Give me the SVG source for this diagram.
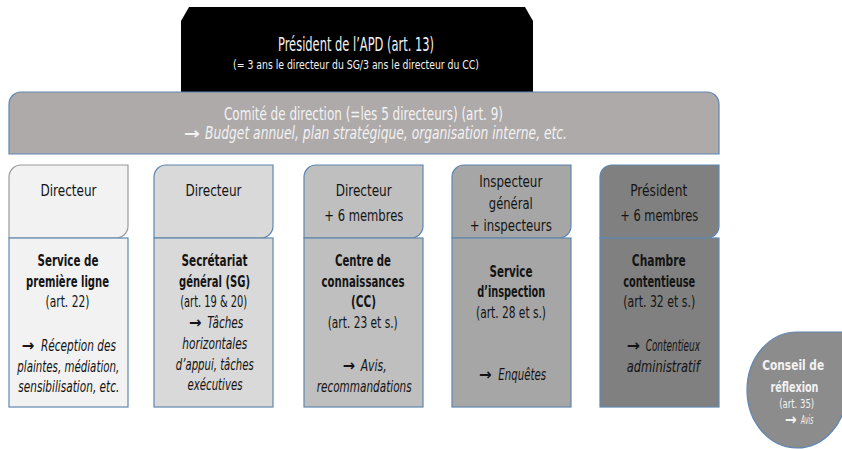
<svg xmlns="http://www.w3.org/2000/svg" width="842" height="449" viewBox="0 0 842 449">
  <style>
    text { font-family: "Liberation Sans Narrow", "DejaVu Sans Condensed", "Liberation Sans", sans-serif; text-anchor: middle; fill: #141414; }
    .light { fill: #f2f2f2; }
    .hd { font-size: 16.5px; }
    .b { font-size: 15.5px; font-weight: bold; }
    .r { font-size: 15.5px; }
    .i { font-style: italic; }
    .s { text-anchor: start; }
    .arr { font-family: "DejaVu Sans", "Liberation Sans", sans-serif; font-size: 16px; font-weight: bold; text-anchor: start; }
    .edge { stroke: #5f86b0; stroke-width: 1.2; }
  </style>

  <rect width="842" height="449" fill="#ffffff"/>

  <!-- President -->
  <g id="president">
    <path d="M181,95 V21 L189,7 H525 L533,21 V95 Z" fill="#000000"/>
    <text class="light" x="356" y="51" font-size="20" textLength="156" lengthAdjust="spacingAndGlyphs">Président de l’APD (art. 13)</text>
    <text class="light" x="356" y="69" font-size="12" textLength="246" lengthAdjust="spacingAndGlyphs">(= 3 ans le directeur du SG/3 ans le directeur du CC)</text>
  </g>

  <!-- Management committee -->
  <g id="comite">
    <path class="edge" d="M9,154 V104 A12,12 0 0 1 21,92 H707 A12,12 0 0 1 719,104 V154 Z" fill="#aeaaaa"/>
    <text class="light" x="363.5" y="120" font-size="18" textLength="279" lengthAdjust="spacingAndGlyphs">Comité de direction (=les 5 directeurs) (art. 9)</text>
    <text class="light arr" x="184" y="139" font-size="18" textLength="16" lengthAdjust="spacingAndGlyphs">→</text>
    <text class="light s i" x="205" y="139" font-size="18" textLength="362" lengthAdjust="spacingAndGlyphs">Budget annuel, plan stratégique, organisation interne, etc.</text>
  </g>

  <!-- Column 1 -->
  <g id="premiere-ligne">
    <path d="M9,177 A12,12 0 0 1 21,165 H128 V226 A12,12 0 0 1 116,238 H9 Z" fill="#f2f2f2" stroke="#9a9a9a" stroke-width="1.2"/>
    <rect class="edge" x="9" y="238" width="119" height="169" fill="#f2f2f2"/>
    <text class="hd" x="68.5" y="196" textLength="56" lengthAdjust="spacingAndGlyphs">Directeur</text>
    <text class="b" x="68" y="266" textLength="61" lengthAdjust="spacingAndGlyphs">Service de</text>
    <text class="b" x="67.5" y="286.5" textLength="83" lengthAdjust="spacingAndGlyphs">première ligne</text>
    <text class="r" x="67.5" y="306.5" textLength="44" lengthAdjust="spacingAndGlyphs">(art. 22)</text>
    <text class="arr" x="21.7" y="351" textLength="12.6" lengthAdjust="spacingAndGlyphs">→</text>
    <text class="r i s" x="41" y="351" textLength="75" lengthAdjust="spacingAndGlyphs">Réception des</text>
    <text class="r i" x="68.3" y="371.5" textLength="102" lengthAdjust="spacingAndGlyphs">plaintes, médiation,</text>
    <text class="r i" x="68.8" y="392" textLength="101" lengthAdjust="spacingAndGlyphs">sensibilisation, etc.</text>
  </g>

  <!-- Column 2 -->
  <g id="secretariat">
    <path class="edge" d="M154,177 A12,12 0 0 1 166,165 H273 V226 A12,12 0 0 1 261,238 H154 Z" fill="#d9d9d9"/>
    <rect class="edge" x="154" y="238" width="119" height="169" fill="#d9d9d9"/>
    <text class="hd" x="213.5" y="196" textLength="56" lengthAdjust="spacingAndGlyphs">Directeur</text>
    <text class="b" x="214.5" y="266" textLength="66" lengthAdjust="spacingAndGlyphs">Secrétariat</text>
    <text class="b" x="214.5" y="286.7" textLength="71" lengthAdjust="spacingAndGlyphs">général (SG)</text>
    <text class="r" x="213.7" y="307.4" textLength="67" lengthAdjust="spacingAndGlyphs">(art. 19 &amp; 20)</text>
    <text class="arr" x="189" y="328" textLength="12.6" lengthAdjust="spacingAndGlyphs">→</text>
    <text class="r i s" x="207.3" y="328" textLength="36" lengthAdjust="spacingAndGlyphs">Tâches</text>
    <text class="r i" x="214.8" y="348.8" textLength="65" lengthAdjust="spacingAndGlyphs">horizontales</text>
    <text class="r i" x="214.8" y="369.5" textLength="78" lengthAdjust="spacingAndGlyphs">d’appui, tâches</text>
    <text class="r i" x="215" y="390.2" textLength="55" lengthAdjust="spacingAndGlyphs">exécutives</text>
  </g>

  <!-- Column 3 -->
  <g id="centre-connaissances">
    <path class="edge" d="M304,177 A12,12 0 0 1 316,165 H423 V226 A12,12 0 0 1 411,238 H304 Z" fill="#bfbfbf"/>
    <rect class="edge" x="304" y="238" width="119" height="169" fill="#bfbfbf"/>
    <text class="hd" x="363.7" y="196" textLength="56" lengthAdjust="spacingAndGlyphs">Directeur</text>
    <text class="hd" x="363.8" y="221" textLength="79" lengthAdjust="spacingAndGlyphs">+ 6 membres</text>
    <text class="b" x="363" y="266" textLength="56" lengthAdjust="spacingAndGlyphs">Centre de</text>
    <text class="b" x="363" y="286.5" textLength="83" lengthAdjust="spacingAndGlyphs">connaissances</text>
    <text class="b" x="363.5" y="307" textLength="25" lengthAdjust="spacingAndGlyphs">(CC)</text>
    <text class="r" x="362.7" y="328" textLength="70" lengthAdjust="spacingAndGlyphs">(art. 23 et s.)</text>
    <text class="arr" x="342.7" y="371" textLength="12.4" lengthAdjust="spacingAndGlyphs">→</text>
    <text class="r i s" x="360.7" y="371" textLength="26" lengthAdjust="spacingAndGlyphs">Avis,</text>
    <text class="r i" x="364.2" y="392" textLength="95" lengthAdjust="spacingAndGlyphs">recommandations</text>
  </g>

  <!-- Column 4 -->
  <g id="service-inspection">
    <path class="edge" d="M452,177 A12,12 0 0 1 464,165 H571 V226 A12,12 0 0 1 559,238 H452 Z" fill="#a6a6a6"/>
    <rect class="edge" x="452" y="238" width="119" height="169" fill="#a6a6a6"/>
    <text class="hd" x="510.8" y="186.5" textLength="63" lengthAdjust="spacingAndGlyphs">Inspecteur</text>
    <text class="hd" x="510.8" y="208.5" textLength="44" lengthAdjust="spacingAndGlyphs">général</text>
    <text class="hd" x="510.8" y="230.5" textLength="82" lengthAdjust="spacingAndGlyphs">+ inspecteurs</text>
    <text class="b" x="511" y="276.5" textLength="43" lengthAdjust="spacingAndGlyphs">Service</text>
    <text class="b" x="511.2" y="297" textLength="68" lengthAdjust="spacingAndGlyphs">d’inspection</text>
    <text class="r" x="511" y="317.5" textLength="70" lengthAdjust="spacingAndGlyphs">(art. 28 et s.)</text>
    <text class="arr" x="479" y="379.5" textLength="12.7" lengthAdjust="spacingAndGlyphs">→</text>
    <text class="r i s" x="498.3" y="379.5" textLength="47.7" lengthAdjust="spacingAndGlyphs">Enquêtes</text>
  </g>

  <!-- Column 5 -->
  <g id="chambre-contentieuse">
    <path class="edge" d="M600,177 A12,12 0 0 1 612,165 H719 V226 A12,12 0 0 1 707,238 H600 Z" fill="#808080"/>
    <rect class="edge" x="600" y="238" width="119" height="169" fill="#808080"/>
    <text class="hd" x="658.7" y="196" textLength="57" lengthAdjust="spacingAndGlyphs">Président</text>
    <text class="hd" x="659.2" y="221" textLength="78" lengthAdjust="spacingAndGlyphs">+ 6 membres</text>
    <text class="b" x="658.8" y="266" textLength="54" lengthAdjust="spacingAndGlyphs">Chambre</text>
    <text class="b" x="659.2" y="286.5" textLength="72" lengthAdjust="spacingAndGlyphs">contentieuse</text>
    <text class="r" x="659.2" y="307" textLength="72" lengthAdjust="spacingAndGlyphs">(art. 32 et s.)</text>
    <text class="arr" x="626.7" y="351" textLength="13.3" lengthAdjust="spacingAndGlyphs">→</text>
    <text class="r i s" x="645.7" y="351" textLength="54.3" lengthAdjust="spacingAndGlyphs">Contentieux</text>
    <text class="r i" x="663.3" y="371.5" textLength="73" lengthAdjust="spacingAndGlyphs">administratif</text>
  </g>

  <!-- Advisory council -->
  <g id="conseil-reflexion">
    <path class="edge" d="M797,332 H847 V390 A50,58 0 0 1 797,448 A50,58 0 0 1 747,390 A50,58 0 0 1 797,332 Z" fill="#8c8c8c"/>
    <text class="light" x="793.2" y="370" font-size="14.5" font-weight="bold" textLength="62" lengthAdjust="spacingAndGlyphs">Conseil de</text>
    <text class="light" x="794.5" y="392" font-size="14.5" font-weight="bold" textLength="48" lengthAdjust="spacingAndGlyphs">réflexion</text>
    <text class="light" x="796.7" y="408" font-size="11.5" textLength="35" lengthAdjust="spacingAndGlyphs">(art. 35)</text>
    <text class="light arr" x="785" y="424.5" font-size="11" textLength="11.7" lengthAdjust="spacingAndGlyphs">→</text>
    <text class="light s i" x="801" y="424" font-size="11.5" textLength="12.3" lengthAdjust="spacingAndGlyphs">Avis</text>
  </g>

  <!-- No connectors are drawn between the blocks -->
  <g id="connectors"/>
</svg>
